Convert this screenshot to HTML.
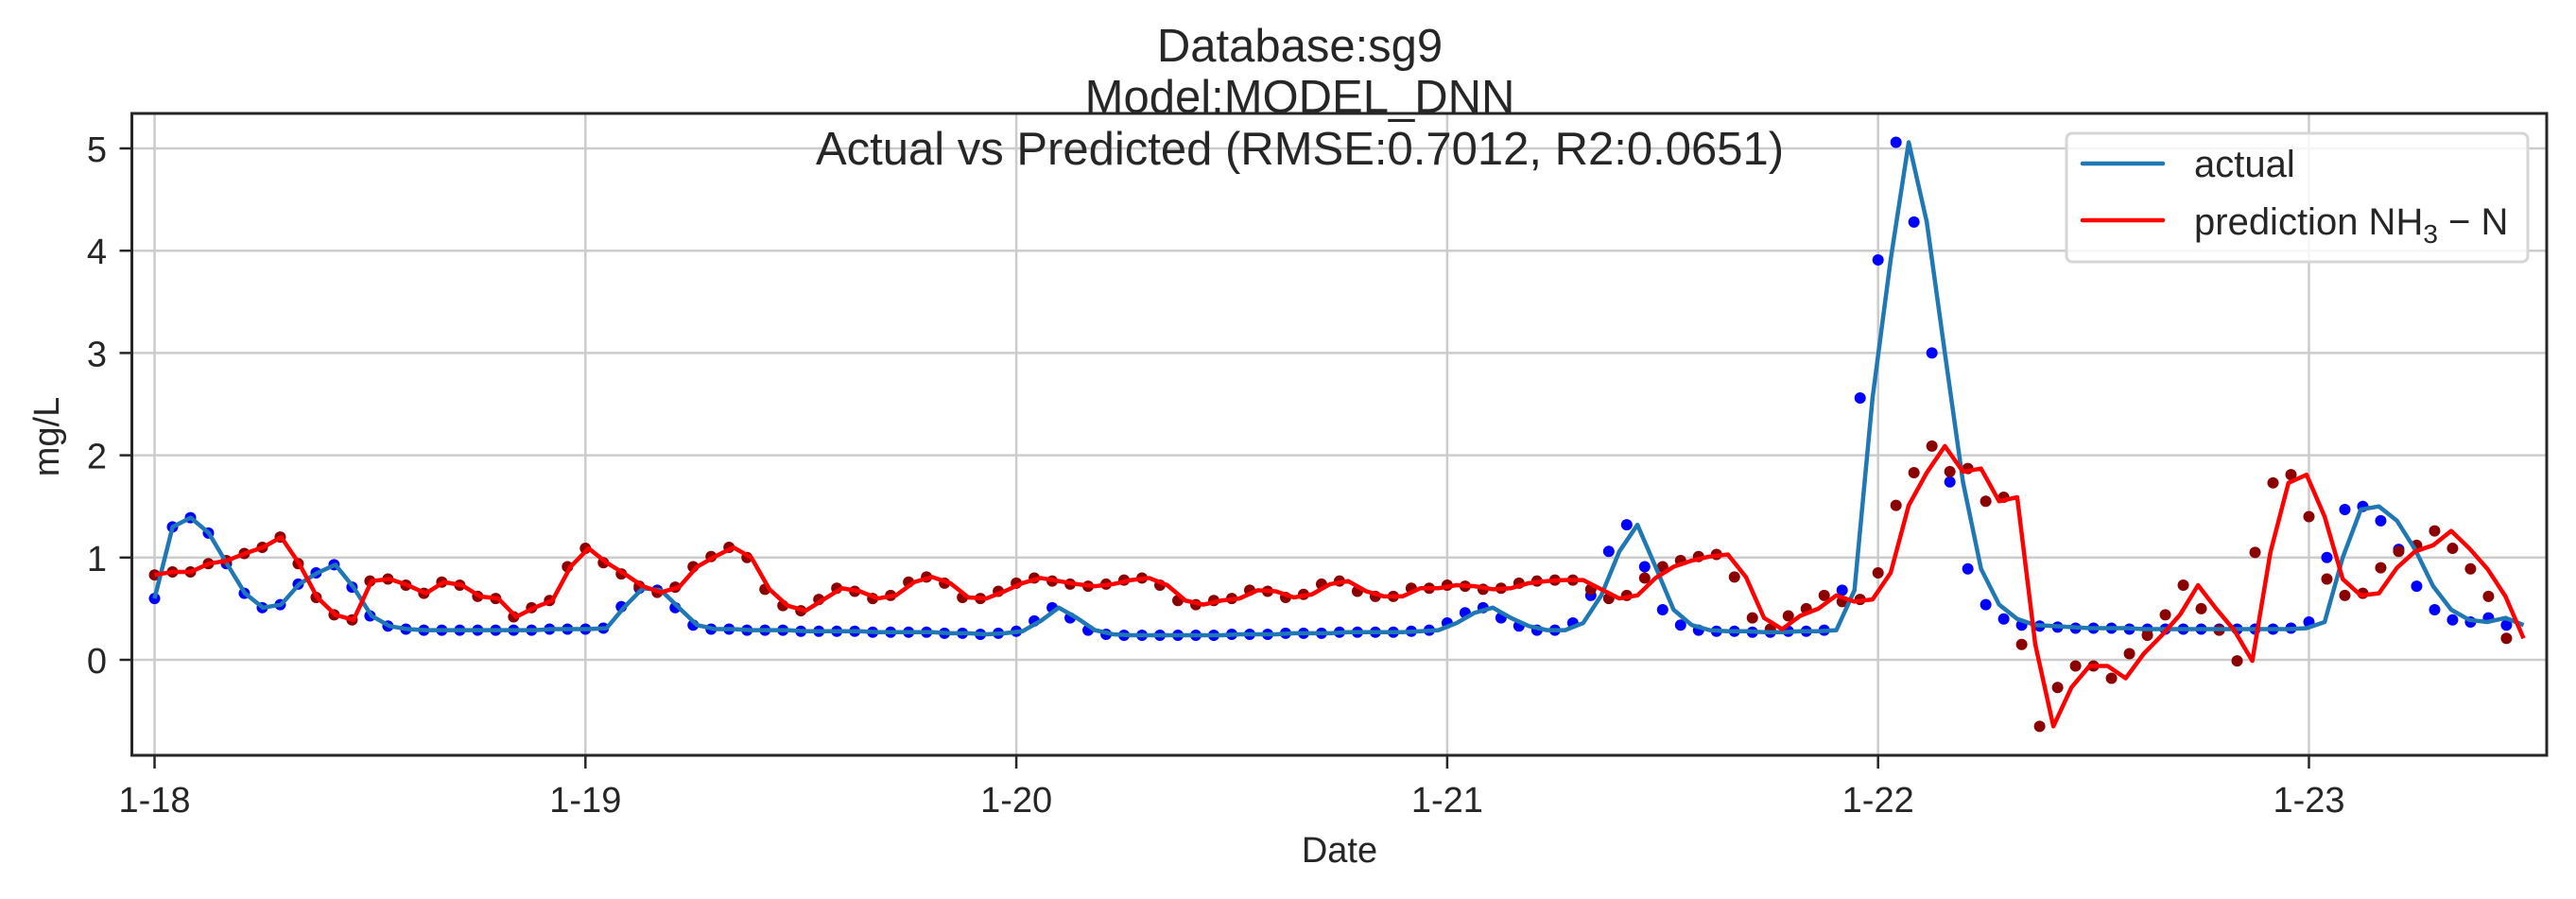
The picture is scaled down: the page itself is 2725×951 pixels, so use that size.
<!DOCTYPE html>
<html><head><meta charset="utf-8"><style>
html,body{margin:0;padding:0;background:#fff;}
svg{display:block;font-family:"Liberation Sans",Arial,sans-serif;}
</style></head><body>
<svg id="chart" width="2725" height="951" viewBox="0 0 2725 951" xmlns="http://www.w3.org/2000/svg">
<rect width="2725" height="951" fill="#fff"/>
<g id="grid"></g>
<g id="marks"></g>
<g id="axes"></g>
<g fill="#262626" font-size="49" text-anchor="middle">
<text x="1375" y="65">Database:sg9</text>
<text x="1375" y="119">Model:MODEL_DNN</text>
<text x="1375" y="174">Actual vs Predicted (RMSE:0.7012, R2:0.0651)</text>
</g>
<text x="0" y="0" transform="translate(62,462) rotate(-90)" text-anchor="middle" font-size="38" fill="#262626">mg/L</text>
<text x="1417" y="912" text-anchor="middle" font-size="38" fill="#262626">Date</text>
<g>
<rect x="2186" y="141" width="488" height="136" rx="6" fill="#fff" fill-opacity="0.8" stroke="#d6d6d6" stroke-width="3"/>
<line x1="2203" y1="173" x2="2288" y2="173" stroke="#1f77b4" stroke-width="4.5" stroke-linecap="round"/>
<text x="2321" y="187" font-size="40" fill="#262626">actual</text>
<line x1="2203" y1="233" x2="2288" y2="233" stroke="#ff0000" stroke-width="4.5" stroke-linecap="round"/>
<text x="2321" y="248" font-size="40" fill="#262626">prediction NH<tspan font-size="28" dy="9">3</tspan><tspan dy="-9"> − N</tspan></text>
</g>
</svg>
<script>
const actual = [0.60,1.30,1.39,1.24,0.94,0.65,0.51,0.54,0.74,0.85,0.93,0.71,0.43,0.33,
0.30,0.29,0.29,0.29,0.29,0.29,0.29,0.29,0.30,0.30,
0.30,0.31,0.52,0.70,0.68,0.51,0.34,0.30,0.30,0.29,0.29,0.29,0.28,
0.28,0.28,0.28,0.27,0.27,0.27,0.27,0.26,0.26,
0.25,0.26,0.28,0.38,0.51,0.41,0.29,0.25,
0.24,0.24,0.24,0.24,0.24,0.24,0.25,0.25,0.25,0.26,0.26,0.26,0.27,0.27,
0.27,0.27,0.28,0.29,0.36,0.46,0.51,0.41,0.33,0.29,0.29,0.36,0.63,1.06,1.32,0.91,0.49,0.34,0.29,
0.28,0.28,0.27,0.27,0.28,0.28,
0.29,0.68,2.56,3.91,5.06,4.28,3.00,1.74,0.89,0.54,0.40,0.34,0.33,
0.32,0.31,0.31,0.31,0.30,0.30,0.30,0.30,0.30,0.30,0.30,0.30,0.30,0.31,
0.37,1.00,1.47,1.50,1.36,1.08,0.72,0.49,0.39,0.37,0.41,0.34];
const predicted = [0.83,0.86,0.86,0.94,0.97,1.04,1.10,1.20,0.94,0.61,0.44,0.39,0.77,0.79,0.73,0.65,0.76,0.73,0.62,0.60,0.42,0.51,0.58,0.91,1.09,0.95,0.84,0.72,0.66,0.71,0.91,1.01,1.10,1.00,0.69,0.53,0.48,
0.59,0.70,0.67,0.60,0.63,0.76,0.81,0.75,0.61,0.60,0.67,0.75,0.80,0.77,0.74,0.72,0.74,0.78,0.80,0.73,0.58,0.54,0.58,0.60,0.68,0.67,0.61,0.64,0.74,0.77,0.67,
0.62,0.62,0.70,0.70,0.73,0.72,0.69,0.70,0.75,0.77,0.78,0.78,0.69,0.60,0.63,0.80,0.91,0.97,1.01,1.03,0.81,0.41,0.30,0.43,0.50,0.63,0.57,
0.59,0.85,1.51,1.83,2.09,1.84,1.87,1.55,1.59,0.15,-0.65,-0.27,-0.06,-0.06,-0.18,0.06,0.24,0.44,0.73,0.50,0.29,-0.01,1.05,1.73,1.81,1.40,0.79,0.63,0.65,0.90,1.06,1.12,1.26,1.09,0.89,0.62,0.21];
const xTickLabels = ["1-18","1-19","1-20","1-21","1-22","1-23"];
const yTickValues = [0,1,2,3,4,5];

const NS = "http://www.w3.org/2000/svg";
const L = 139.5, R = 2694, T = 120, B = 799;
const X0 = 163.5, DAY = 455.8;
function xDot(i){ return X0 + i * DAY / 24; }
function xLine(i){ return X0 + i * 19.13; }
function xDay(d){ return X0 + d * DAY; }
function y(v){ return 698 - v * 108.2; }
function mk(tag, attrs, parent){ const e = document.createElementNS(NS, tag); for (const k in attrs) e.setAttribute(k, attrs[k]); parent.appendChild(e); return e; }

const grid = document.getElementById("grid");
const axes = document.getElementById("axes");
const marks = document.getElementById("marks");

xTickLabels.forEach((lab, d) => {
  const gx = mk("line", {x1: xDay(d), x2: xDay(d), y1: T, y2: B, stroke: "#cccccc", "stroke-width": 2.5}, grid);
  
  
  const tk = mk("line", {x1: xDay(d), x2: xDay(d), y1: B, y2: B + 14, stroke: "#262626", "stroke-width": 2.5}, axes);
  
  
  const t = mk("text", {x: xDay(d), y: 859, "text-anchor": "middle", "font-size": 38, fill: "#262626"}, axes);
  t.textContent = lab;
  
  
});
yTickValues.forEach(v => {
  const gy = mk("line", {x1: L, x2: R, y1: y(v), y2: y(v), stroke: "#cccccc", "stroke-width": 2.5}, grid);
  
  
  const tk = mk("line", {x1: L - 13, x2: L, y1: y(v), y2: y(v), stroke: "#262626", "stroke-width": 2.5}, axes);
  
  
  const t = mk("text", {x: 113, y: y(v) + 14, "text-anchor": "end", "font-size": 38, fill: "#262626"}, axes);
  t.textContent = String(v);
  
  
});
const frame = mk("rect", {x: L, y: T, width: R - L, height: B - T, fill: "none", stroke: "#262626", "stroke-width": 3}, axes);



actual.forEach((v, i) => {
  const c = mk("circle", {cx: xDot(i), cy: y(v), r: 6, fill: "#0000ff"}, marks);
  
  
});
predicted.forEach((v, i) => {
  const c = mk("circle", {cx: xDot(i), cy: y(v), r: 6, fill: "#8b0000"}, marks);
  
  
});
const pa = mk("polyline", {points: actual.map((v, i) => xLine(i) + "," + y(v)).join(" "), fill: "none", stroke: "#1f77b4", "stroke-width": 4.5, "stroke-linejoin": "round"}, marks);


const pp = mk("polyline", {points: predicted.map((v, i) => xLine(i) + "," + y(v)).join(" "), fill: "none", stroke: "#ff0000", "stroke-width": 4.5, "stroke-linejoin": "round"}, marks);


</script>
</body></html>
